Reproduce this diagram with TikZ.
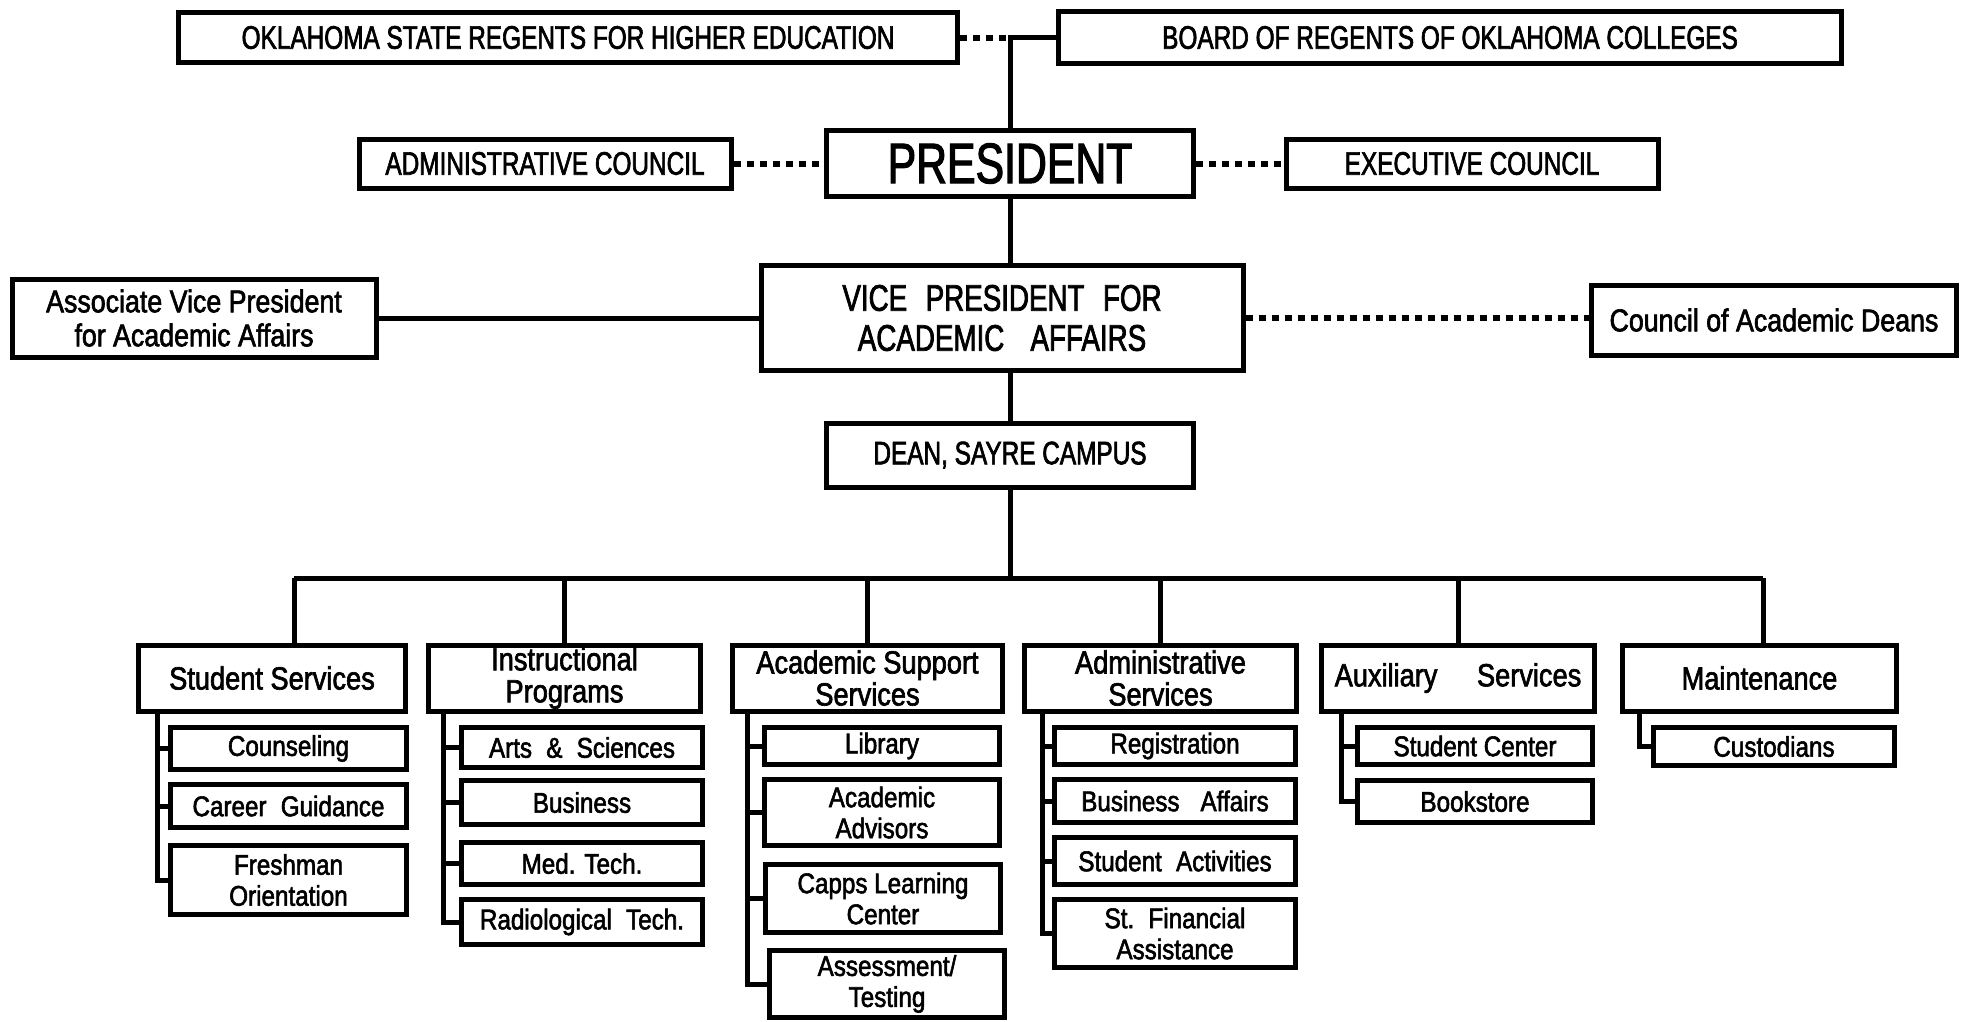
\documentclass[tikz,border=0pt]{standalone}
\usepackage{fontspec}
\setmainfont[FakeStretch=0.85,FakeBold=2]{Liberation Sans}
\newfontfamily\capsfam[FakeStretch=0.75,FakeBold=2]{Liberation Sans}
\usepackage{tikz}

\newcommand\capsfont{\capsfam\fontsize{32.5}{36}\selectfont}
\newcommand\presfont{\capsfam\fontsize{57}{60}\selectfont}
\newcommand\vpfont{\capsfam\fontsize{37}{40}\selectfont}
\newcommand\sidefont{\fontsize{31.5}{34}\selectfont}
\newcommand\deptfont{\fontsize{32}{32}\selectfont}
\newcommand\kidfont{\fontsize{28.5}{31}\selectfont}

\begin{document}
\begin{tikzpicture}[x=1pt,y=-1pt,
  unit/.style={draw,line width=5pt,inner sep=0pt,align=center,font=\capsfont},
  dept/.style={unit,minimum height=66pt,font=\deptfont},
  kid/.style={unit,font=\kidfont},
  link/.style={line width=5pt},
  dots/.style={line width=6pt,dash pattern=on 7pt off 6pt}]
\useasboundingbox (0,0) rectangle (1967,1021);

% regents, president, councils
\node[unit,minimum width=779pt,minimum height=50pt] (osr) at (568,37.5) {OKLAHOMA STATE REGENTS FOR HIGHER EDUCATION};
\node[unit,minimum width=783pt,minimum height=52pt] (bor) at (1450,37.5) {BOARD OF REGENTS OF OKLAHOMA COLLEGES};
\node[unit,minimum width=367pt,minimum height=66pt,font=\presfont] (pres) at (1010,163.5) {PRESIDENT};
\node[unit,minimum width=372pt,minimum height=49pt] (adm) at (545,163.5) {ADMINISTRATIVE COUNCIL};
\node[unit,minimum width=372pt,minimum height=49pt] (exe) at (1472,163.5) {EXECUTIVE COUNCIL};

% vice president level
\node[unit,minimum width=482pt,minimum height=105pt,font=\vpfont] (vp) at (1002,318) {VICE\enspace PRESIDENT\enspace FOR\\ACADEMIC\enspace\ AFFAIRS};
\node[unit,minimum width=364pt,minimum height=78pt,font=\sidefont] (asv) at (194,318) {Associate Vice President\\for Academic Affairs};
\node[unit,minimum width=365pt,minimum height=70pt,font=\sidefont] (cad) at (1774,320) {Council of Academic Deans};
\node[unit,minimum width=367pt,minimum height=64pt] (dean) at (1010,455) {DEAN, SAYRE CAMPUS};

% departments
\node[dept,minimum width=267pt] (ss) at (272,678) {Student Services};
\node[dept,minimum width=272pt] (ip) at (564.5,678) {Instructional\\Programs};
\node[dept,minimum width=270pt] (as) at (867.5,678) {Academic Support\\Services};
\node[dept,minimum width=272pt] (ad) at (1160.5,678) {Administrative\\Services};
\node[dept,minimum width=273pt] (ax) at (1458,678) {Auxiliary\quad\ Services};
\node[dept,minimum width=274pt] (mt) at (1759.5,678) {Maintenance};

% student services
\node[kid,minimum width=236pt,minimum height=42pt] (cou) at (288.5,748.5) {Counseling};
\node[kid,minimum width=236pt,minimum height=43pt] (car) at (288.5,806) {Career\enspace Guidance};
\node[kid,minimum width=236pt,minimum height=69pt] (fre) at (288.5,880) {Freshman\\Orientation};

% instructional programs
\node[kid,minimum width=241pt,minimum height=40pt] (art) at (582,747.5) {Arts\enspace\&\enspace Sciences};
\node[kid,minimum width=241pt,minimum height=44pt] (bus) at (582,802.5) {Business};
\node[kid,minimum width=241pt,minimum height=42pt] (med) at (582,863.5) {Med. Tech.};
\node[kid,minimum width=241pt,minimum height=45pt] (rad) at (582,922) {Radiological\enspace Tech.};

% academic support services
\node[kid,minimum width=235pt,minimum height=37pt] (lib) at (882,746) {Library};
\node[kid,minimum width=235pt,minimum height=66pt] (adv) at (882,812.5) {Academic\\Advisors};
\node[kid,minimum width=235pt,minimum height=68pt] (cap) at (883,898.5) {Capps Learning\\Center};
\node[kid,minimum width=235pt,minimum height=67pt] (tes) at (887,984) {Assessment/\\Testing};

% administrative services
\node[kid,minimum width=241pt,minimum height=37pt] (reg) at (1175,746) {Registration};
\node[kid,minimum width=241pt,minimum height=43pt] (baf) at (1175,801) {Business\enspace\ Affairs};
\node[kid,minimum width=241pt,minimum height=47pt] (act) at (1175,861) {Student\enspace Activities};
\node[kid,minimum width=241pt,minimum height=68pt] (fin) at (1175,933.5) {St.\enspace Financial\\Assistance};

% auxiliary services and maintenance
\node[kid,minimum width=235pt,minimum height=37pt] (cen) at (1475,746) {Student Center};
\node[kid,minimum width=235pt,minimum height=42pt] (boo) at (1475,801.5) {Bookstore};
\node[kid,minimum width=241pt,minimum height=38pt] (cus) at (1774,746.5) {Custodians};

% upper connectors
\draw[dots] (osr.east) -- (osr.east -| pres.north);
\draw[link] (pres.north) -- (pres.north |- bor.west) -- (bor.west);
\draw[dots] (adm.east) -- (pres.west);
\draw[dots] (pres.east) -- (exe.west);
\draw[link] (pres.south) -- (pres.south |- vp.north);
\draw[link] (asv.east) -- (vp.west);
\draw[dots] (vp.east) -- (vp.east -| cad.west);
\draw[link] (dean.north |- vp.south) -- (dean.north);

% bus to departments
\coordinate (busL) at (294,578);
\coordinate (busR) at (1763,578);
\draw[link] (dean.south) -- (dean.south |- busL);
\draw[link] (busL) -- (busR);
\draw[link] (busL) -- (busL |- ss.north);
\draw[link] (ip.north |- busL) -- (ip.north);
\draw[link] (as.north |- busL) -- (as.north);
\draw[link] (ad.north |- busL) -- (ad.north);
\draw[link] (ax.north |- busL) -- (ax.north);
\draw[link] (busR) -- (busR |- mt.north);

% brackets under departments
\coordinate (ssL) at (157,0);
\draw[link] (ssL |- ss.south) |- (fre.west);
\draw[link] (ssL |- cou.west) -- (cou.west);
\draw[link] (ssL |- car.west) -- (car.west);

\coordinate (ipL) at (443,0);
\draw[link] (ipL |- ip.south) |- (rad.west);
\draw[link] (ipL |- art.west) -- (art.west);
\draw[link] (ipL |- bus.west) -- (bus.west);
\draw[link] (ipL |- med.west) -- (med.west);

\coordinate (asL) at (747,0);
\draw[link] (asL |- as.south) |- (tes.west);
\draw[link] (asL |- lib.west) -- (lib.west);
\draw[link] (asL |- adv.west) -- (adv.west);
\draw[link] (asL |- cap.west) -- (cap.west);

\coordinate (adL) at (1042,0);
\draw[link] (adL |- ad.south) |- (fin.west);
\draw[link] (adL |- reg.west) -- (reg.west);
\draw[link] (adL |- baf.west) -- (baf.west);
\draw[link] (adL |- act.west) -- (act.west);

\coordinate (axL) at (1341,0);
\draw[link] (axL |- ax.south) |- (boo.west);
\draw[link] (axL |- cen.west) -- (cen.west);

\coordinate (mtL) at (1639,0);
\draw[link] (mtL |- mt.south) |- (cus.west);
\end{tikzpicture}
\end{document}
